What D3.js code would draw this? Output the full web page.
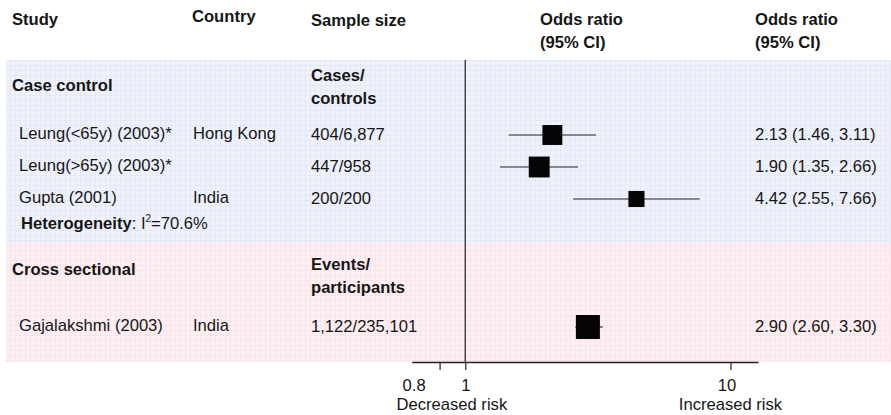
<!DOCTYPE html>
<html><head><meta charset="utf-8">
<script src="https://cdn.jsdelivr.net/npm/d3@7/dist/d3.min.js"></script>
<style>
html,body{margin:0;padding:0;background:#fff;}
svg{display:block;font-family:"Liberation Sans",Arial,Helvetica,sans-serif;}
</style></head><body>
<svg id="chart" width="891" height="415"></svg>
<script>
// ---------------- data ----------------
const headers = ["Study", "Country", "Sample size", "Odds ratio\n(95% CI)", "Odds ratio\n(95% CI)"];
const groupNames = ["Case control", "Cross sectional"];
const groupSizeLabels = ["Cases/\ncontrols", "Events/\nparticipants"];
const studies = ["Leung(<65y) (2003)*", "Leung(>65y) (2003)*", "Gupta (2001)", "Gajalakshmi (2003)"];
const countries = ["Hong Kong", "", "India", "India"];
const sampleSizes = ["404/6,877", "447/958", "200/200", "1,122/235,101"];
const studyGroup = [0, 0, 0, 1];
const oddsRatios = [2.13, 1.90, 4.42, 2.90];
const ciLower = [1.46, 1.35, 2.55, 2.60];
const ciUpper = [3.11, 2.66, 7.66, 3.30];
const weights = [0.83, 0.87, 0.67, 1.0];          // relative study weight (box size)
const rowSlots = [0, 1, 2, 6];                      // row order slots
const heterogeneity = {label: "Heterogeneity", stat: "I", sup: "2", value: "=70.6%"};
const tickValues = [0.8, 1, 10];
const axisLabels = ["Decreased risk", "Increased risk"];

// ---------------- layout ----------------
const svg = d3.select("#chart");
const FS = 16.6;
const textColor = "#161616";
const col = {study: 12, studyRow: 19, country: 193, sample: 311, or: 540, orText: 755};

const x = d3.scaleLog().domain([0.628, 12.7]).range([411.7, 758]);
const y = d3.scaleLinear().domain([0, 1]).range([135, 167]);
const box = d3.scaleLinear().domain([0, 1]).range([0, 24]);

const bandTop = 60, bandMid = 243, axisY = 362, bandLeft = 6;

// background patterns (fine grid)
const defs = svg.append("defs");
function gridPattern(id, base, line) {
  const p = defs.append("pattern").attr("id", id).attr("patternUnits", "userSpaceOnUse")
    .attr("width", 5).attr("height", 5);
  p.append("rect").attr("width", 5).attr("height", 5).attr("fill", base);
  p.append("path").attr("d", "M0,0.5H5M0.5,0V5").attr("stroke", line).attr("stroke-width", 1);
}
gridPattern("gBlue", "#f0f2fb", "#e5e8f5");
gridPattern("gPink", "#fdf0f3", "#f8e4ea");

svg.append("rect").attr("x", bandLeft).attr("y", bandTop).attr("width", 891 - bandLeft)
  .attr("height", bandMid - bandTop).attr("fill", "url(#gBlue)");
svg.append("rect").attr("x", bandLeft).attr("y", bandMid).attr("width", 891 - bandLeft)
  .attr("height", axisY - bandMid).attr("fill", "url(#gPink)");

// helper for multi-line text
function mtext(g, str, xx, yy, bold, lh) {
  const t = g.append("text").attr("x", xx).attr("y", yy).attr("fill", textColor)
    .attr("font-size", FS).attr("font-weight", bold ? "bold" : "normal");
  str.split("\n").forEach((s, i) => {
    t.append("tspan").attr("x", xx).attr("dy", i === 0 ? 0 : lh).text(s);
  });
  return t;
}

// headers
const hx = [col.study, col.country - 1, col.sample, col.or, col.orText];
const hy = [25, 22, 26, 25, 25];
headers.forEach((h, i) => mtext(svg, h, hx[i], hy[i], true, 22.5));

// group headers
const groupSlot = [-1.55, 4.2];
const groupSizeSlot = [-1.9, 4.0];
groupNames.forEach((g, i) => {
  mtext(svg, g, col.study, y(groupSlot[i]) + 6, true, 0);
  mtext(svg, groupSizeLabels[i], col.sample, y(groupSizeSlot[i]) + 7, true, 23);
});

// study rows
const rows = studies.map((s, i) => ({
  study: s, country: countries[i], n: sampleSizes[i], or: oddsRatios[i],
  lo: ciLower[i], hi: ciUpper[i], w: weights[i], slot: rowSlots[i]
}));

const rg = svg.append("g");
rows.forEach(r => {
  const cy = y(r.slot);
  mtext(rg, r.study, col.studyRow, cy + 3.5, false, 0);
  if (r.country) mtext(rg, r.country, col.country, cy + 3.5, false, 0);
  mtext(rg, r.n, col.sample, cy + 5, false, 0);
  mtext(rg, `${r.or.toFixed(2)} (${r.lo.toFixed(2)}, ${r.hi.toFixed(2)})`, col.orText, cy + 5, false, 0);
});

// heterogeneity
const ht = rg.append("text").attr("x", 21).attr("y", y(2.7) + 7.5).attr("fill", textColor).attr("font-size", FS);
ht.append("tspan").attr("font-weight", "bold").text(heterogeneity.label);
ht.append("tspan").text(": " + heterogeneity.stat);
ht.append("tspan").attr("font-size", 10).attr("dy", -7).text(heterogeneity.sup);
ht.append("tspan").attr("dy", 7).text(heterogeneity.value);

// reference line at OR = 1
svg.append("line").attr("x1", x(1)).attr("x2", x(1)).attr("y1", bandTop).attr("y2", axisY)
  .attr("stroke", "#3a3a3a").attr("stroke-width", 1.4);

// CI lines and boxes
const fg = svg.append("g");
fg.selectAll("line.ci").data(rows).join("line").attr("class", "ci")
  .attr("x1", d => x(d.lo)).attr("x2", d => x(d.hi))
  .attr("y1", d => y(d.slot)).attr("y2", d => y(d.slot))
  .attr("stroke", "#222").attr("stroke-width", 1.1);
fg.selectAll("rect.box").data(rows).join("rect").attr("class", "box")
  .attr("x", d => x(d.or) - box(d.w) / 2).attr("y", d => y(d.slot) - box(d.w) / 2)
  .attr("width", d => box(d.w)).attr("height", d => box(d.w))
  .attr("fill", "#050505");

// axis
const axis = d3.axisBottom(x).tickValues(tickValues).tickFormat(d3.format("")).tickSize(8).tickSizeOuter(0).tickPadding(9);
const ag = svg.append("g").attr("transform", `translate(0,${axisY})`).call(axis);
ag.select(".domain").attr("stroke", "#222").attr("stroke-width", 1.3);
ag.selectAll(".tick line").attr("stroke", "#222").attr("stroke-width", 1.2);
ag.selectAll(".tick text").attr("font-size", FS).attr("fill", textColor)
  .attr("font-family", "Liberation Sans, Arial, sans-serif")
  .attr("dx", d => d === 0.8 ? -26 : (d === 10 ? -4 : 0));

// risk labels
svg.append("text").attr("x", x(0.89)).attr("y", axisY + 48).attr("text-anchor", "middle")
  .attr("font-size", FS).attr("fill", textColor).text(axisLabels[0]);
svg.append("text").attr("x", x(10)).attr("y", axisY + 48).attr("text-anchor", "middle")
  .attr("font-size", FS).attr("fill", textColor).text(axisLabels[1]);
</script>
</body></html>
